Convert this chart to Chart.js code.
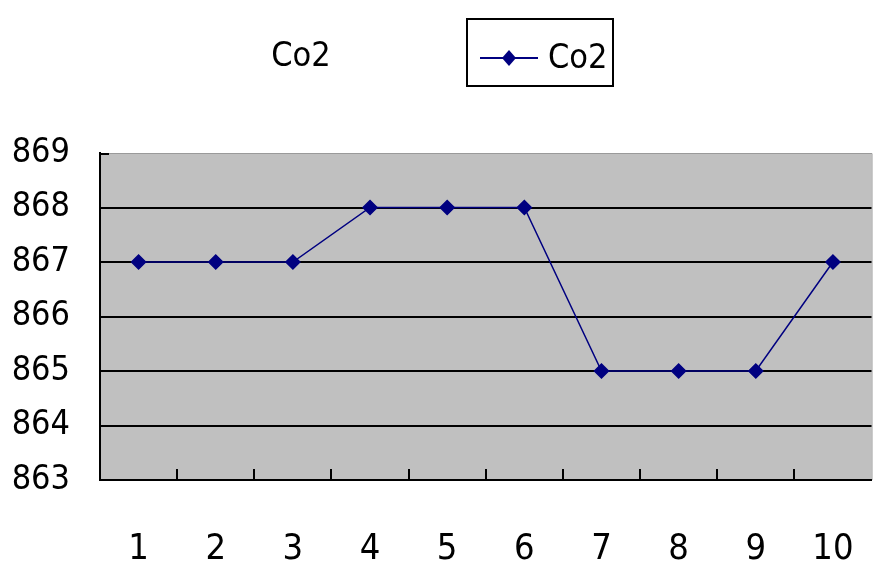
<!DOCTYPE html>
<html>
<head>
<meta charset="utf-8">
<script src="https://cdn.jsdelivr.net/npm/chart.js@4/dist/chart.umd.min.js"></script>
<style>
  html, body { margin: 0; padding: 0; background: #fff; }
  #wrap { width: 880px; height: 587px; }
</style>
</head>
<body>
<div id="wrap"><canvas id="co2" width="880" height="587"></canvas></div>
<script>
const categorias = ['1', '2', '3', '4', '5', '6', '7', '8', '9', '10'];
const valoresCo2 = [867, 867, 867, 868, 868, 868, 865, 865, 865, 867];
const ticksY = [863, 864, 865, 866, 867, 868, 869];
const titulo = 'Co2';

const fuente = "'DejaVu Sans Condensed', 'Liberation Sans Narrow', sans-serif";
const azul = '#000080';

// fondo gris del area de trazado
const fondoGris = {
    id: 'fondoGris',
    beforeDraw(chart) {
        const { ctx, chartArea: a } = chart;
        ctx.save();
        ctx.fillStyle = '#c0c0c0';
        ctx.fillRect(a.left, a.top, a.right - a.left, a.bottom - a.top);
        ctx.strokeStyle = '#9a9a9a';
        ctx.lineWidth = 1;
        ctx.beginPath();
        ctx.moveTo(a.left, a.top + 0.5);
        ctx.lineTo(a.right + 0.5, a.top + 0.5);
        ctx.lineTo(a.right + 0.5, a.bottom);
        ctx.stroke();
        ctx.restore();
    }
};

// marcas del eje X hacia dentro, entre categorias
const marcasX = {
    id: 'marcasX',
    afterDatasetsDraw(chart) {
        const { ctx, chartArea: a, scales: { x } } = chart;
        ctx.save();
        ctx.strokeStyle = '#000';
        ctx.lineWidth = 2;
        ctx.beginPath();
        for (let i = 1; i < categorias.length; i++) {
            const px = Math.round((x.getPixelForValue(i - 1) + x.getPixelForValue(i)) / 2);
            ctx.moveTo(px, a.bottom);
            ctx.lineTo(px, a.bottom - 11);
        }
        // marca superior del eje Y
        ctx.moveTo(a.left, a.top + 1);
        ctx.lineTo(a.left + 9, a.top + 1);
        ctx.stroke();
        ctx.restore();
    }
};

// titulo y leyenda con recuadro
const tituloLeyenda = {
    id: 'tituloLeyenda',
    afterDraw(chart) {
        const ctx = chart.ctx;
        ctx.save();
        ctx.fillStyle = '#000';
        ctx.font = '34px ' + fuente;
        ctx.textBaseline = 'middle';
        ctx.textAlign = 'center';
        ctx.fillText(titulo, 301, 57);

        // recuadro de la leyenda
        ctx.strokeStyle = '#000';
        ctx.lineWidth = 2;
        ctx.strokeRect(467, 19, 146, 67);
        ctx.strokeStyle = azul;
        ctx.lineWidth = 2;
        ctx.beginPath();
        ctx.moveTo(480, 58);
        ctx.lineTo(538, 58);
        ctx.stroke();
        ctx.fillStyle = azul;
        ctx.beginPath();
        ctx.moveTo(509, 50); ctx.lineTo(516, 58); ctx.lineTo(509, 66); ctx.lineTo(502, 58);
        ctx.closePath();
        ctx.fill();
        ctx.fillStyle = '#000';
        ctx.textAlign = 'left';
        ctx.fillText(chart.data.datasets[0].label, 548, 59);
        ctx.restore();
    }
};

const ctx = document.getElementById('co2').getContext('2d');

const grafico = new Chart(ctx, {
    type: 'line',
    data: {
        labels: categorias,
        datasets: [{
            label: 'Co2',
            data: valoresCo2,
            borderColor: azul,
            backgroundColor: azul,
            borderWidth: 1.5,
            pointStyle: 'rectRot',
            pointRadius: 7,
            pointHoverRadius: 7,
            tension: 0
        }]
    },
    options: {
        responsive: false,
        animation: false,
        devicePixelRatio: 1,
        layout: { padding: { top: 153, right: 7, bottom: 0, left: 0 } },
        plugins: {
            legend: { display: false },
            title: { display: false },
            tooltip: { enabled: false }
        },
        scales: {
            x: {
                type: 'category',
                offset: true,
                grid: { display: false, drawTicks: false },
                border: { display: true, color: '#000', width: 2 },
                ticks: {
                    color: '#000',
                    font: { family: fuente, size: 36 },
                    padding: 48,
                    maxRotation: 0,
                    autoSkip: false
                },
                afterFit(s) { s.height = 107; s.paddingLeft = 0; s.paddingRight = 0; }
            },
            y: {
                min: ticksY[0],
                max: ticksY[ticksY.length - 1],
                afterBuildTicks(s) { s.ticks = ticksY.map(v => ({ value: v })); },
                grid: {
                    drawTicks: false,
                    color: ctx => ctx.tick && ctx.tick.value === ticksY[ticksY.length - 1] ? 'rgba(0,0,0,0)' : '#000',
                    lineWidth: 2
                },
                border: { display: true, color: '#000', width: 2 },
                ticks: {
                    color: '#000',
                    font: { family: fuente, size: 34 },
                    padding: 30
                },
                afterFit(s) { s.width = 100; s.paddingTop = 0; s.paddingBottom = 0; }
            }
        }
    },
    plugins: [fondoGris, marcasX, tituloLeyenda]
});
</script>
</body>
</html>
